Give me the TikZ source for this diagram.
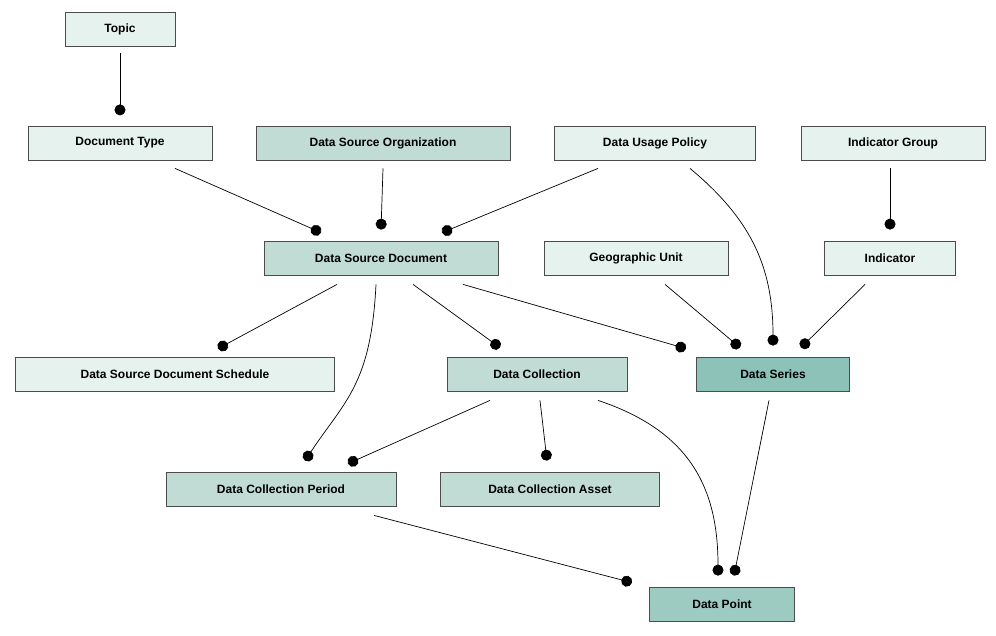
\documentclass[tikz,border=0pt]{standalone}
\usepackage{fontspec}
\setmainfont{Liberation Sans}
\usetikzlibrary{positioning,calc,arrows.meta}
\definecolor{lightbox}{HTML}{E6F2EE}
\definecolor{midbox}{HTML}{C0DCD5}
\definecolor{darkbox}{HTML}{8CC2B7}
\definecolor{pointbox}{HTML}{9ECBC1}

\begin{document}
\begin{tikzpicture}[
   x=1pt, y=-1pt,
   every node/.append style={font=\fontsize{12}{14}\selectfont\bfseries},
   entity/.style={draw=black!70, line width=0.8pt, minimum height=34pt, inner sep=0pt},
   link/.style={line width=0.7pt, -{Circle[length=11pt]}}
]
\useasboundingbox (0,0) rectangle (996,635);

% entities
\node[entity, fill=lightbox, minimum width=110pt] (topic) at (120,29) {Topic};
\node[entity, fill=lightbox, minimum width=184pt] (doctype) at (120,143) {Document Type};
\node[entity, fill=midbox, minimum width=254pt] (dsorg) at (383,143) {Data Source Organization};
\node[entity, fill=lightbox, minimum width=201pt] (usage) at (655,143) {Data Usage Policy};
\node[entity, fill=lightbox, minimum width=184pt] (indgroup) at (893,143) {Indicator Group};
\node[entity, fill=midbox, minimum width=234pt] (dsdoc) at (381,258) {Data Source Document};
\node[entity, fill=lightbox, minimum width=184pt] (geo) at (636,258) {Geographic Unit};
\node[entity, fill=lightbox, minimum width=131pt] (ind) at (890,258) {Indicator};
\node[entity, fill=lightbox, minimum width=319pt] (schedule) at (175,374) {Data Source Document Schedule};
\node[entity, fill=midbox, minimum width=180pt] (coll) at (537,374) {Data Collection};
\node[entity, fill=darkbox, minimum width=153pt] (series) at (773,374) {Data Series};
\node[entity, fill=midbox, minimum width=230pt] (period) at (281,489) {Data Collection Period};
\node[entity, fill=midbox, minimum width=219pt] (asset) at (550,489) {Data Collection Asset};
\node[entity, fill=pointbox, minimum width=145pt] (point) at (722,604) {Data Point};

% relations
\draw[link] ($(topic.south)+(0,7)$) -- ($(topic.south)+(0,69)$);
\draw[link] ($(doctype.south)+(55,8)$) -- ($(dsdoc.north)+(-60,-8)$);
\draw[link] ($(dsorg.south)+(0,8)$) -- ($(dsdoc.north)+(0,-11)$);
\draw[link] ($(usage.south)+(-57,8)$) -- ($(dsdoc.north)+(61,-8)$);
\draw[link] ($(usage.south)+(35,8)$) .. controls +(60,50) and +(0,-80) .. ($(series.north)+(0,-11)$);
\draw[link] ($(indgroup.south)+(-3,8)$) -- ($(ind.north)+(0,-11)$);
\draw[link] ($(dsdoc.south)+(-44,9)$) -- ($(schedule.north)+(43,-8)$);
\draw[link] ($(dsdoc.south)+(-5,9)$) .. controls +(-5,100) and +(40,-60) .. ($(period.north)+(24,-11)$);
\draw[link] ($(dsdoc.south)+(32,9)$) -- ($(coll.north)+(-37,-9)$);
\draw[link] ($(dsdoc.south)+(82,9)$) -- ($(series.north)+(-87,-8)$);
\draw[link] ($(geo.south)+(29,9)$) -- ($(series.north)+(-33,-9)$);
\draw[link] ($(ind.south)+(-25,9)$) -- ($(series.north)+(28,-9)$);
\draw[link] ($(coll.south)+(-47,9)$) -- ($(period.north)+(67,-8)$);
\draw[link] ($(coll.south)+(3,9)$) -- ($(asset.north)+(-3,-11)$);
\draw[link] ($(coll.south)+(61,9)$) .. controls +(90,30) and +(0,-90) .. ($(point.north)+(-4,-11)$);
\draw[link] ($(series.south)+(-4,9)$) -- ($(point.north)+(12,-11)$);
\draw[link] ($(period.south)+(93,9)$) -- ($(point.north)+(-90,-4)$);
\end{tikzpicture}
\end{document}
